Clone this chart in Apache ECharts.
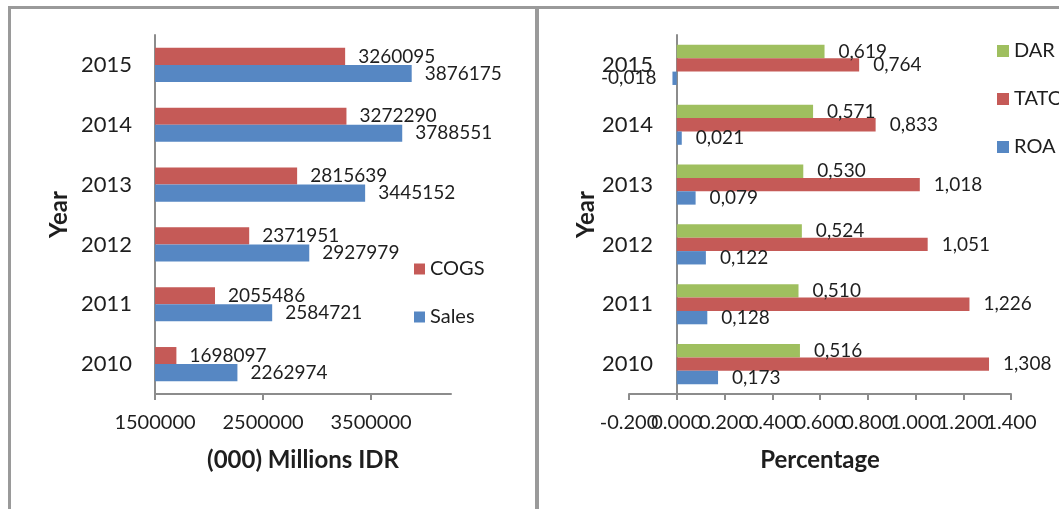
<!DOCTYPE html>
<html>
<head>
<meta charset="utf-8">
<script src="https://cdn.jsdelivr.net/npm/echarts@6/dist/echarts.min.js"></script>
<style>
  html, body { margin: 0; padding: 0; background: #fff; }
  #container { width: 1059px; height: 509px; }
</style>
</head>
<body>
<div id="container"></div>
<script>
  // data
  var years = ['2010', '2011', '2012', '2013', '2014', '2015'];
  var sales = [2262974, 2584721, 2927979, 3445152, 3788551, 3876175];
  var cogs = [1698097, 2055486, 2371951, 2815639, 3272290, 3260095];
  var roa = [0.173, 0.128, 0.122, 0.079, 0.021, -0.018];
  var tato = [1.308, 1.226, 1.051, 1.018, 0.833, 0.764];
  var dar = [0.516, 0.510, 0.524, 0.530, 0.571, 0.619];
  var leftTicks = [1500000, 2500000, 3500000];
  // right axis labels overlap in the original, so they are split over two axes
  var rightTicksA = [-0.2, 0.2, 0.6, 1.0, 1.4];
  var rightTicksB = [0, 0.4, 0.8, 1.2];

  var font = 'Lato';
  var axisGray = '#8c8c8c';
  var textColor = '#1e1e1e';

  function ratioLabel(p) {
    return p.value.toFixed(3).replace('.', ',');
  }
  // negative bars get their label on the left side, like excel's outside end
  function ratioData(arr) {
    return arr.map(function (v) {
      return v < 0 ? { value: v, label: { position: 'left', distance: 16 } } : v;
    });
  }

  var labelBase = {
    show: true,
    position: 'right',
    distance: 13,
    fontFamily: font,
    fontSize: 19,
    color: textColor
  };
  var nameStyle = { fontFamily: font, fontSize: 24, fontWeight: 'bold', color: textColor };

  function catAxis(grid, margin, gap, offset) {
    return {
      type: 'category',
      gridIndex: grid,
      data: years,
      offset: offset,
      name: 'Year',
      nameLocation: 'middle',
      nameGap: gap,
      nameTextStyle: nameStyle,
      axisLine: { onZero: false, lineStyle: { color: axisGray, width: 2 } },
      axisTick: { length: 6, lineStyle: { color: axisGray, width: 2 } },
      axisLabel: { fontFamily: font, fontSize: 22, color: textColor, margin: margin },
      splitLine: { show: false }
    };
  }

  function ratioAxis(values, withLine) {
    return {
      type: 'value',
      gridIndex: 1,
      position: 'bottom',
      min: -0.2,
      max: 1.4,
      interval: 0.2,
      name: withLine ? 'Percentage' : '',
      nameLocation: 'middle',
      nameGap: 54,
      nameTextStyle: nameStyle,
      axisLine: { show: withLine, onZero: false, lineStyle: { color: axisGray, width: 2 } },
      axisTick: { show: withLine, length: 6, lineStyle: { color: axisGray, width: 2 } },
      axisLabel: {
        customValues: values,
        fontFamily: font, fontSize: 20, color: textColor, margin: 19,
        formatter: function (v) { return v.toFixed(3); }
      },
      splitLine: { show: false }
    };
  }

  var option = {
    animation: false,
    backgroundColor: '#fff',
    graphic: [
      { type: 'rect', shape: { x: 9.5, y: 7.5, width: 527, height: 520 },
        style: { fill: 'none', stroke: '#9a9a9a', lineWidth: 3 } },
      { type: 'rect', shape: { x: 537.5, y: 7.5, width: 540, height: 520 },
        style: { fill: 'none', stroke: '#9a9a9a', lineWidth: 3 } }
    ],
    grid: [
      { left: 155, top: 35, width: 296, height: 359 },
      { left: 629, top: 35, width: 382, height: 359 }
    ],
    legend: [
      {
        orient: 'vertical', left: 409, top: 253,
        data: ['COGS', 'Sales'],
        itemWidth: 11, itemHeight: 11, itemGap: 26, icon: 'rect',
        textStyle: { fontFamily: font, fontSize: 20, color: textColor, lineHeight: 22 }
      },
      {
        orient: 'vertical', left: 992, top: 35,
        data: ['DAR', 'TATO', 'ROA'],
        itemWidth: 12, itemHeight: 12, itemGap: 26, icon: 'rect',
        textStyle: { fontFamily: font, fontSize: 20, color: textColor, lineHeight: 22 }
      }
    ],
    xAxis: [
      {
        type: 'value',
        gridIndex: 0,
        min: 1500000,
        max: 4240000,
        name: '(000) Millions IDR',
        nameLocation: 'middle',
        nameGap: 54,
        nameTextStyle: nameStyle,
        axisLine: { show: true, onZero: false, lineStyle: { color: axisGray, width: 2 } },
        axisTick: { show: true, length: 6, customValues: leftTicks, lineStyle: { color: axisGray, width: 2 } },
        axisLabel: {
          customValues: leftTicks, fontFamily: font, fontSize: 20, color: textColor, margin: 19,
          formatter: function (v) { return String(v); }
        },
        splitLine: { show: false }
      },
      ratioAxis(rightTicksA, true),
      ratioAxis(rightTicksB, false)
    ],
    yAxis: [
      catAxis(0, 23, 84, 0),
      // shift the right axis onto the zero line, labels and name included
      catAxis(1, 24, 73, -48)
    ],
    series: [
      {
        name: 'COGS', type: 'bar', xAxisIndex: 0, yAxisIndex: 0,
        data: cogs, barGap: '0%', barCategoryGap: '43%',
        itemStyle: { color: '#c55a57' },
        label: labelBase
      },
      {
        name: 'Sales', type: 'bar', xAxisIndex: 0, yAxisIndex: 0,
        data: sales, barGap: '0%', barCategoryGap: '43%',
        itemStyle: { color: '#5687c3' },
        label: labelBase
      },
      {
        name: 'DAR', type: 'bar', xAxisIndex: 1, yAxisIndex: 1,
        data: dar, barGap: '0%', barCategoryGap: '33%',
        itemStyle: { color: '#9fbf5f' },
        label: Object.assign({}, labelBase, { distance: 14, formatter: ratioLabel })
      },
      {
        name: 'TATO', type: 'bar', xAxisIndex: 1, yAxisIndex: 1,
        data: tato, barGap: '0%', barCategoryGap: '33%',
        itemStyle: { color: '#c55a57' },
        label: Object.assign({}, labelBase, { distance: 14, formatter: ratioLabel })
      },
      {
        name: 'ROA', type: 'bar', xAxisIndex: 1, yAxisIndex: 1,
        data: ratioData(roa), barGap: '0%', barCategoryGap: '33%',
        itemStyle: { color: '#5687c3' },
        label: Object.assign({}, labelBase, { distance: 14, formatter: ratioLabel })
      }
    ]
  };

  var chart = echarts.init(document.getElementById('container'), null, { renderer: 'canvas' });
  chart.setOption(option);
</script>
</body>
</html>
